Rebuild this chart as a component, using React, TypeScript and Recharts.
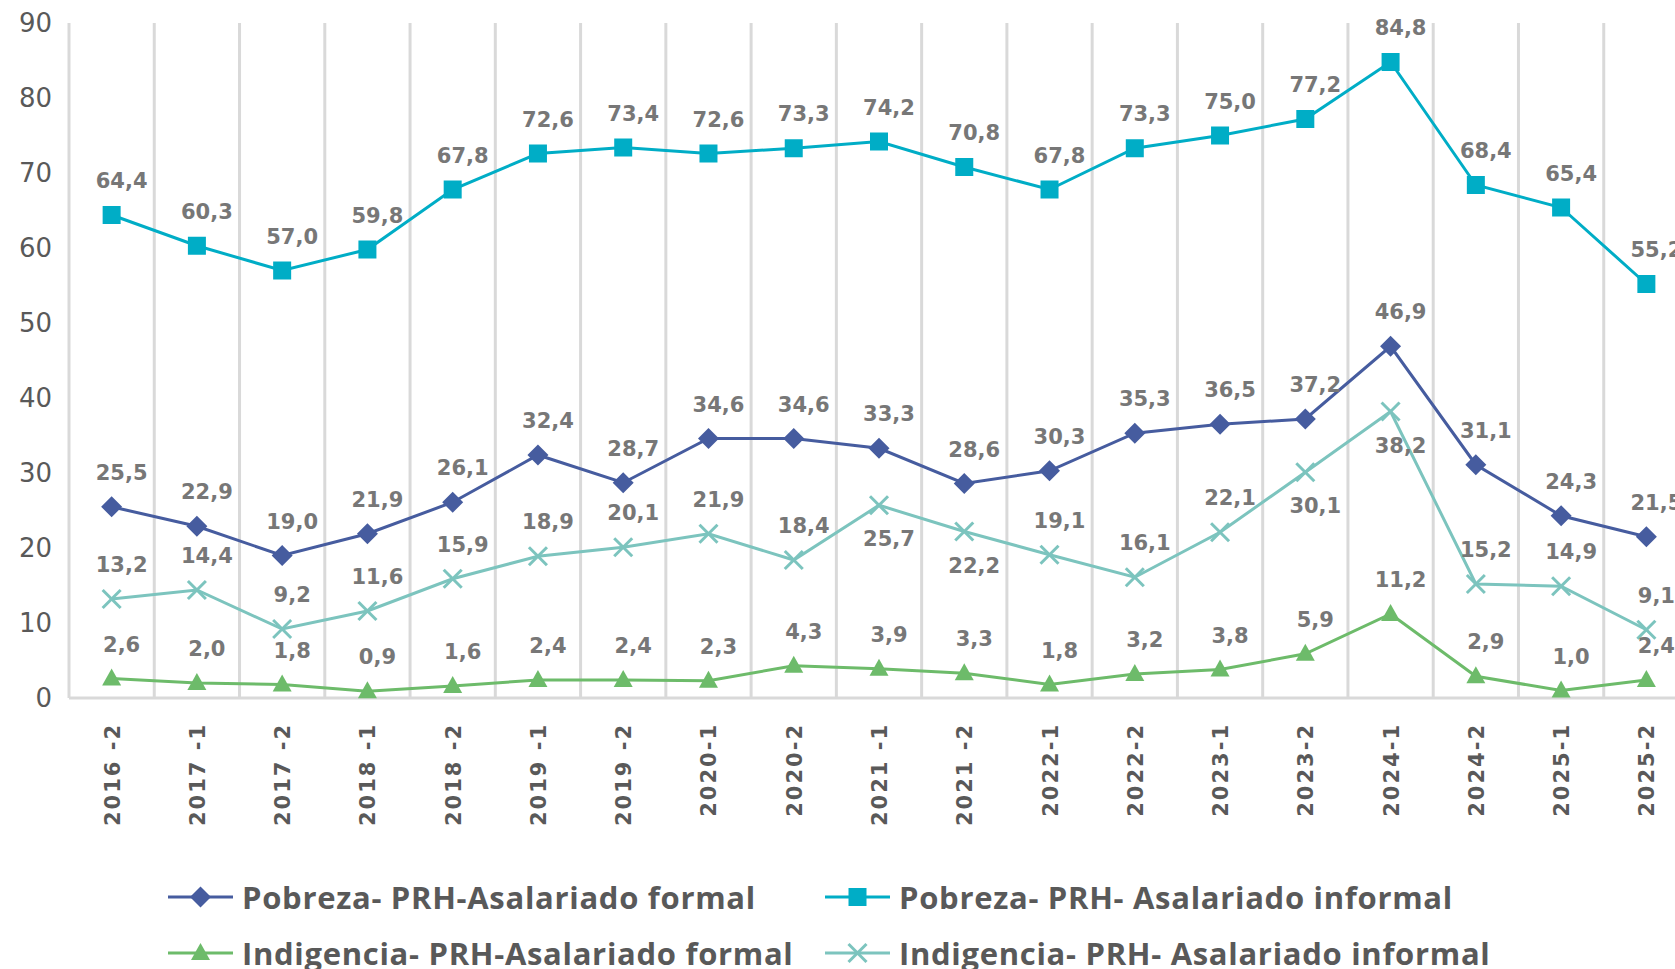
import {
  CartesianGrid,
  ComposedChart,
  LabelList,
  Legend,
  Line,
  XAxis,
  YAxis,
} from 'recharts'

const periods = [
  '2016 -2', '2017 -1', '2017 -2', '2018 -1', '2018 -2', '2019 -1', '2019 -2',
  '2020-1', '2020-2', '2021 -1', '2021 -2', '2022-1', '2022-2', '2023-1',
  '2023-2', '2024-1', '2024-2', '2025-1', '2025-2',
]

const pobrezaFormal = [25.5, 22.9, 19.0, 21.9, 26.1, 32.4, 28.7, 34.6, 34.6, 33.3, 28.6, 30.3, 35.3, 36.5, 37.2, 46.9, 31.1, 24.3, 21.5]
const pobrezaInformal = [64.4, 60.3, 57.0, 59.8, 67.8, 72.6, 73.4, 72.6, 73.3, 74.2, 70.8, 67.8, 73.3, 75.0, 77.2, 84.8, 68.4, 65.4, 55.2]
const indigenciaFormal = [2.6, 2.0, 1.8, 0.9, 1.6, 2.4, 2.4, 2.3, 4.3, 3.9, 3.3, 1.8, 3.2, 3.8, 5.9, 11.2, 2.9, 1.0, 2.4]
const indigenciaInformal = [13.2, 14.4, 9.2, 11.6, 15.9, 18.9, 20.1, 21.9, 18.4, 25.7, 22.2, 19.1, 16.1, 22.1, 30.1, 38.2, 15.2, 14.9, 9.1]

// periods where the Indigencia informal label sits under the point
const labelsBelow = ['2021 -1', '2021 -2', '2023-2', '2024-1']

const yTicks = [0, 10, 20, 30, 40, 50, 60, 70, 80, 90]

const data = periods.map((period, i) => ({
  period,
  pobrezaFormal: pobrezaFormal[i],
  pobrezaInformal: pobrezaInformal[i],
  indigenciaFormal: indigenciaFormal[i],
  indigenciaInformal: indigenciaInformal[i],
}))

const COLORS = {
  pobrezaFormal: '#465c9f',
  pobrezaInformal: '#00adc6',
  indigenciaFormal: '#6dbb6a',
  indigenciaInformal: '#7cc4be',
}

const GRID = '#d9d9d9'
const FONT = '"DejaVu Sans", sans-serif'

type Shape = 'diamond' | 'square' | 'triangle' | 'cross'

const Marker = ({ cx, cy, shape, color }: { cx: number; cy: number; shape: Shape; color: string }) => {
  if (cx == null || cy == null) return null
  if (shape === 'diamond') {
    const r = 10.5
    return <polygon points={`${cx},${cy - r} ${cx + r},${cy} ${cx},${cy + r} ${cx - r},${cy}`} fill={color} />
  }
  if (shape === 'square') {
    const r = 9
    return <rect x={cx - r} y={cy - r} width={r * 2} height={r * 2} fill={color} />
  }
  if (shape === 'triangle') {
    return <polygon points={`${cx},${cy - 10} ${cx + 9.5},${cy + 7} ${cx - 9.5},${cy + 7}`} fill={color} />
  }
  const r = 9
  return (
    <g stroke={color} strokeWidth={3}>
      <line x1={cx - r} y1={cy - r} x2={cx + r} y2={cy + r} />
      <line x1={cx - r} y1={cy + r} x2={cx + r} y2={cy - r} />
    </g>
  )
}

const dotFor = (shape: Shape, color: string) => (p: any) => (
  <Marker key={`${shape}-${p.index}`} cx={p.cx} cy={p.cy} shape={shape} color={color} />
)

const fmt = (v: number) => v.toFixed(1).replace('.', ',')

const valueLabel = (below: (i: number) => boolean) => (props: any) => {
  const x = props.x ?? props.viewBox?.x
  const y = props.y ?? props.viewBox?.y
  if (x == null || y == null) return null
  const under = below(props.index)
  return (
    <text
      key={`lbl-${props.index}`}
      x={x + 10}
      y={under ? y + 41 : y - 27}
      textAnchor="middle"
      fontFamily={FONT}
      fontWeight="bold"
      fontSize={21}
      fill="#777777"
    >
      {fmt(Number(props.value))}
    </text>
  )
}

const XTick = ({ x, y, payload }: any) => (
  <text
    transform={`translate(${x + 8},${y + 25}) rotate(-90)`}
    textAnchor="end"
    fontFamily={FONT}
    fontWeight="bold"
    fontSize={21}
    letterSpacing={2}
    fill="#595959"
  >
    {payload.value}
  </text>
)

const legendItems: { name: string; key: keyof typeof COLORS; shape: Shape }[] = [
  { name: 'Pobreza- PRH-Asalariado formal', key: 'pobrezaFormal', shape: 'diamond' },
  { name: 'Pobreza- PRH- Asalariado informal', key: 'pobrezaInformal', shape: 'square' },
  { name: 'Indigencia- PRH-Asalariado formal', key: 'indigenciaFormal', shape: 'triangle' },
  { name: 'Indigencia- PRH- Asalariado informal', key: 'indigenciaInformal', shape: 'cross' },
]

const renderLegend = () => (
  <div style={{ position: 'relative', width: 1675, height: 100 }}>
    {legendItems.map((item, i) => {
      const col = i % 2
      const row = Math.floor(i / 2)
      return (
        <div
          key={item.key}
          style={{
            position: 'absolute',
            left: col === 0 ? 168 : 825,
            top: row === 0 ? 8 : 64,
            height: 40,
            display: 'flex',
            alignItems: 'center',
            whiteSpace: 'nowrap',
          }}
        >
          <svg width={65} height={30} style={{ marginRight: 9 }}>
            <line x1={0} y1={15} x2={65} y2={15} stroke={COLORS[item.key]} strokeWidth={3} />
            <Marker cx={32.5} cy={15} shape={item.shape} color={COLORS[item.key]} />
          </svg>
          <span
            style={{
              fontFamily: '"Open Sans", sans-serif',
              fontWeight: 'bold',
              fontSize: 31,
              letterSpacing: 0.7,
              color: '#595959',
            }}
          >
            {item.name}
          </span>
        </div>
      )
    })}
  </div>
)

const App = () => {
  return (
    <div
      style={{
        position: 'absolute',
        left: 0,
        top: 0,
        width: 1675,
        height: 969,
        overflow: 'hidden',
        background: '#ffffff',
      }}
    >
      <ComposedChart
        width={1700}
        height={969}
        data={data}
        margin={{ top: 23, right: 11, bottom: 0, left: 0 }}
      >
        <CartesianGrid
          horizontal={false}
          stroke={GRID}
          strokeWidth={3}
          verticalCoordinatesGenerator={({ offset }: any) =>
            Array.from({ length: periods.length + 1 }, (_, i) => offset.left + (i * offset.width) / periods.length)
          }
        />
        <XAxis
          dataKey="period"
          scale="band"
          interval={0}
          height={171}
          tickLine={false}
          tickSize={0}
          tickMargin={0}
          axisLine={{ stroke: GRID, strokeWidth: 3 }}
          tick={<XTick />}
        />
        <YAxis
          domain={[0, 90]}
          ticks={yTicks}
          width={69}
          axisLine={false}
          tickLine={false}
          tickSize={0}
          tickMargin={17}
          tick={{ fontFamily: FONT, fontSize: 26, fill: '#595959' }}
        />
        <Legend verticalAlign="bottom" content={renderLegend} wrapperStyle={{ left: 0, bottom: 0, width: 1675, height: 100 }} />
        <Line
          dataKey="indigenciaFormal"
          name="Indigencia- PRH-Asalariado formal"
          stroke={COLORS.indigenciaFormal}
          strokeWidth={3}
          dot={dotFor('triangle', COLORS.indigenciaFormal)}
          isAnimationActive={false}
        >
          <LabelList dataKey="indigenciaFormal" content={valueLabel(() => false)} />
        </Line>
        <Line
          dataKey="indigenciaInformal"
          name="Indigencia- PRH- Asalariado informal"
          stroke={COLORS.indigenciaInformal}
          strokeWidth={3}
          dot={dotFor('cross', COLORS.indigenciaInformal)}
          isAnimationActive={false}
        >
          <LabelList
            dataKey="indigenciaInformal"
            content={valueLabel((i) => labelsBelow.includes(periods[i]))}
          />
        </Line>
        <Line
          dataKey="pobrezaFormal"
          name="Pobreza- PRH-Asalariado formal"
          stroke={COLORS.pobrezaFormal}
          strokeWidth={3}
          dot={dotFor('diamond', COLORS.pobrezaFormal)}
          isAnimationActive={false}
        >
          <LabelList dataKey="pobrezaFormal" content={valueLabel(() => false)} />
        </Line>
        <Line
          dataKey="pobrezaInformal"
          name="Pobreza- PRH- Asalariado informal"
          stroke={COLORS.pobrezaInformal}
          strokeWidth={3}
          dot={dotFor('square', COLORS.pobrezaInformal)}
          isAnimationActive={false}
        >
          <LabelList dataKey="pobrezaInformal" content={valueLabel(() => false)} />
        </Line>
      </ComposedChart>
    </div>
  )
}

export default App
